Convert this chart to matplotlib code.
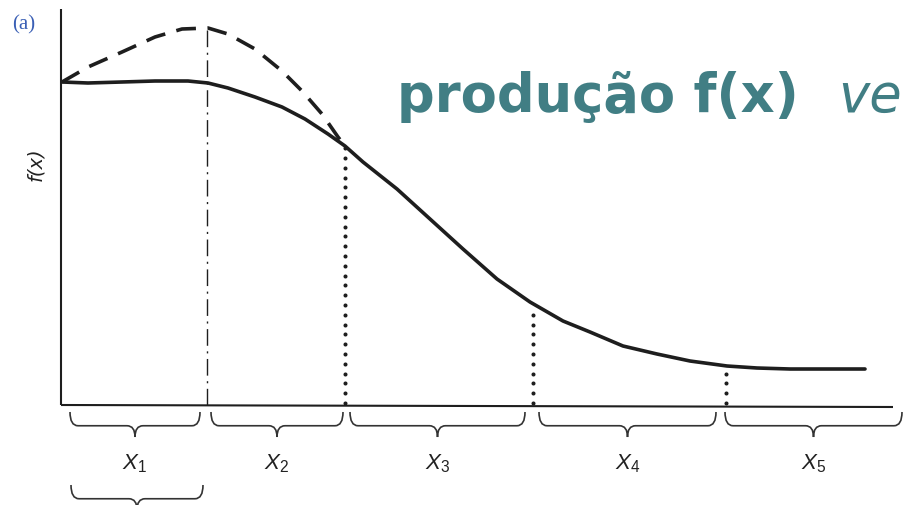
import numpy as np
import matplotlib.pyplot as plt
from matplotlib.path import Path
from matplotlib.patches import PathPatch

# curva de produção real (contínua) e potencial (tracejada), x e f(x) em unidades do desenho
x_real = [1, 27, 61, 94, 127, 147, 167, 194, 221, 244, 267, 284, 302, 336, 369, 402,
          436, 469, 502, 529, 562, 596, 629, 666, 696, 729, 762, 804]
f_real = [323, 322, 323, 324, 324, 322, 317, 308, 298, 286, 271, 259, 243, 216, 186, 156,
          126, 103, 84, 73, 59, 51, 44, 39, 37, 36, 36, 36]

x_pot = [1, 27, 61, 94, 121, 147, 167, 194, 221, 241, 261, 277, 284]
f_pot = [323, 338, 353, 368, 376, 377, 371, 356, 334, 314, 291, 268, 259]

# limites dos intervalos X1..X5 no eixo horizontal
x_lim_pico = 146
x_divisoes = [284, 472, 665]
f_divisoes = [259, 98, 37]
intervalos = [(9, 139), (150, 282), (289, 464), (478, 655), (664, 841)]
rotulos = ['1', '2', '3', '4', '5']

plt.rcParams['mathtext.fontset'] = 'custom'
plt.rcParams['mathtext.rm'] = 'Liberation Sans'
plt.rcParams['mathtext.it'] = 'Liberation Sans:italic'

fig = plt.figure(figsize=(9.07, 5.06), dpi=100)
ax = fig.add_axes([0, 0, 1, 1])
ax.set_xlim(-61, 846)
ax.set_ylim(-100, 406)
ax.axis('off')

ink = '#1e1e1e'

# eixos
ax.plot([0, 0], [0, 396], color=ink, lw=1.5, solid_capstyle='butt')
ax.plot([0, 832], [0, -2], color=ink, lw=1.5, solid_capstyle='butt')

# curvas
ax.plot(x_real, f_real, color=ink, lw=2.6, solid_capstyle='round', solid_joinstyle='round')
ax.plot(x_pot, f_pot, color=ink, lw=2.6, dashes=(5.5, 3.2), dash_joinstyle='round')

# linha do máximo (traço-ponto)
ax.plot([x_lim_pico, x_lim_pico], [0, 377], color=ink, lw=1.0, dashes=(12, 4, 1.5, 4))

# linhas pontilhadas nas divisões
for xd, fd in zip(x_divisoes, f_divisoes):
    ys = np.arange(2, fd, 9.8)
    ax.plot(np.full_like(ys, xd), ys, ls='none', marker='o', ms=1.9, color=ink)


def chave(x0, x1, y_top, h):
    """chave horizontal apontando para baixo"""
    xc = (x0 + x1) / 2
    ym = y_top - h * 0.55
    yb = y_top - h
    r = 8
    verts = [(x0, y_top), (x0, ym), (x0 + r, ym),
             (xc - r, ym), (xc, ym), (xc, yb),
             (xc, ym), (xc + r, ym),
             (x1 - r, ym), (x1, ym), (x1, y_top)]
    codes = [Path.MOVETO, Path.CURVE3, Path.CURVE3,
             Path.LINETO, Path.CURVE3, Path.CURVE3,
             Path.CURVE3, Path.CURVE3,
             Path.LINETO, Path.CURVE3, Path.CURVE3]
    ax.add_patch(PathPatch(Path(verts, codes), fill=False, ec='#333333', lw=1.2))


for (a, b), r in zip(intervalos, rotulos):
    chave(a, b, -7, 25)
    ax.text((a + b) / 2, -58, r'$X_{\mathrm{%s}}$' % r, fontsize=16,
            ha='center', va='center', color='#222222')

chave(10, 142, -80, 25)

ax.text(-25, 242, 'f(x)', rotation=90, fontsize=14, style='italic',
        ha='center', va='center', color='#222222', family='DejaVu Sans')
ax.text(-49, 381, '(a)', fontsize=15, color='#3a5fb5', family='Liberation Serif',
        ha='left', va='center')

teal = '#417e84'
ax.text(336, 294, 'produção f(x) ', fontsize=38, fontweight='bold',
        color=teal, ha='left', va='baseline', family='DejaVu Sans')
ax.text(777, 294, 've', fontsize=38, style='italic',
        color=teal, ha='left', va='baseline', family='DejaVu Sans')

fig.savefig('out.png', dpi=100)
